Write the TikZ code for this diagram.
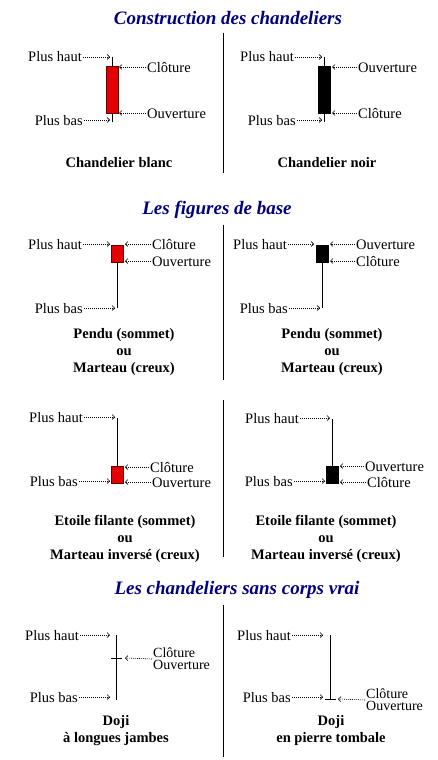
\documentclass[tikz,border=0pt]{standalone}
\usepackage{fontspec}
\setmainfont{Liberation Serif}
\usetikzlibrary{arrows.meta}
\definecolor{titre}{RGB}{0,0,128}
\definecolor{rouge}{RGB}{226,0,0}
\definecolor{bordrouge}{RGB}{100,0,0}
\tikzset{
  lbl/.style={inner sep=1pt,text height=10pt,text depth=0pt,font=\fontsize{14.5}{16}\selectfont},
  lbl2/.style={anchor=west,align=left,inner sep=1pt,font=\fontsize{14}{12}\selectfont},
  legende/.style={align=center,font=\fontsize{14.5}{17}\selectfont\bfseries},
  titrefig/.style={text=titre,font=\fontsize{19}{22}\selectfont\bfseries\itshape},
  ptr/.style={line width=.6pt,dash pattern=on 1pt off 1pt,-{Straight Barb[length=2.5pt,width=5pt,line width=.6pt]}},
  meche/.style={line width=1pt},
  blanc/.style={fill=rouge,draw=bordrouge,line width=.8pt},
  noir/.style={fill=black,draw=black,line width=.8pt},
  sep/.style={line width=1pt}
}
\begin{document}
\begin{tikzpicture}[x=1pt,y=-1pt]
  \useasboundingbox (0,0) rectangle (437,760);
  % titres
  \node[titrefig] (t1) at (228,18) {Construction des chandeliers};
  \node[titrefig] (t2) at (217,210) {Les figures de base};
  \node[titrefig] (t3) at (237,590) {Les chandeliers sans corps vrai};
  % separations
  \draw[sep] (223,33)--(223,173);
  \draw[sep] (223,225)--(223,380);
  \draw[sep] (223,400)--(223,557);
  \draw[sep] (223,605)--(223,757);

  % chandelier blanc
  \draw[meche] (112,57)--(112,122);
  \filldraw[blanc] (106,66) rectangle (118,113);
  \coordinate (a1) at (110,57);
  \coordinate (a2) at (110,120);
  \coordinate (a3) at (119,67);
  \coordinate (a4) at (119,113);
  \node[lbl,anchor=east] (ph1) at (83,57) {Plus haut};
  \node[lbl,anchor=east] (pb1) at (84,120) {Plus bas};
  \node[lbl,anchor=west] (cl1) at (146,67) {Clôture};
  \node[lbl,anchor=west] (ou1) at (146,113) {Ouverture};
  \draw[ptr] (ph1.east)--(a1);
  \draw[ptr] (pb1.east)--(a2);
  \draw[ptr] (cl1.west)--(a3);
  \draw[ptr] (ou1.west)--(a4);
  \node[legende] (c1) at (119,163) {Chandelier blanc};

  % chandelier noir
  \draw[meche] (324,57)--(324,122);
  \filldraw[noir] (318,66) rectangle (330,113);
  \coordinate (b1) at (322,57);
  \coordinate (b2) at (322,120);
  \coordinate (b3) at (332,67);
  \coordinate (b4) at (332,113);
  \node[lbl,anchor=east] (ph2) at (295,57) {Plus haut};
  \node[lbl,anchor=east] (pb2) at (297,120) {Plus bas};
  \node[lbl,anchor=west] (ou2) at (357,67) {Ouverture};
  \node[lbl,anchor=west] (cl2) at (357,113) {Clôture};
  \draw[ptr] (ph2.east)--(b1);
  \draw[ptr] (pb2.east)--(b2);
  \draw[ptr] (ou2.west)--(b3);
  \draw[ptr] (cl2.west)--(b4);
  \node[legende] (c2) at (327,163) {Chandelier noir};

  % pendu / marteau, blanc
  \draw[meche] (117,262)--(117,308);
  \filldraw[blanc] (111,245) rectangle (123,262);
  \coordinate (c1a) at (110,244);
  \coordinate (c1b) at (115,308);
  \coordinate (c1c) at (125,244);
  \coordinate (c1d) at (125,261);
  \node[lbl,anchor=east] (ph3) at (83,244) {Plus haut};
  \node[lbl,anchor=east] (pb3) at (84,308) {Plus bas};
  \node[lbl,anchor=west] (cl3) at (151,244) {Clôture};
  \node[lbl,anchor=west] (ou3) at (151,261) {Ouverture};
  \draw[ptr] (ph3.east)--(c1a);
  \draw[ptr] (pb3.east)--(c1b);
  \draw[ptr] (cl3.west)--(c1c);
  \draw[ptr] (ou3.west)--(c1d);
  \node[legende] (c3) at (124,352) {Pendu (sommet)\\ou\\Marteau (creux)};

  % pendu / marteau, noir
  \draw[meche] (322,262)--(322,308);
  \filldraw[noir] (316,245) rectangle (328,262);
  \coordinate (d1) at (314,244);
  \coordinate (d2) at (320,308);
  \coordinate (d3) at (330,244);
  \coordinate (d4) at (330,261);
  \node[lbl,anchor=east] (ph4) at (288,244) {Plus haut};
  \node[lbl,anchor=east] (pb4) at (289,308) {Plus bas};
  \node[lbl,anchor=west] (ou4) at (355,244) {Ouverture};
  \node[lbl,anchor=west] (cl4) at (355,261) {Clôture};
  \draw[ptr] (ph4.east)--(d1);
  \draw[ptr] (pb4.east)--(d2);
  \draw[ptr] (ou4.west)--(d3);
  \draw[ptr] (cl4.west)--(d4);
  \node[legende] (c4) at (332,352) {Pendu (sommet)\\ou\\Marteau (creux)};

  % etoile filante, blanc
  \draw[meche] (117,418)--(117,466);
  \filldraw[blanc] (111,466) rectangle (123,483);
  \coordinate (e1) at (115,417);
  \coordinate (e2) at (110,481);
  \coordinate (e3) at (125,467);
  \coordinate (e4) at (125,482);
  \node[lbl,anchor=east] (ph5) at (84,417) {Plus haut};
  \node[lbl,anchor=east] (pb5) at (79,481) {Plus bas};
  \node[lbl,anchor=west] (cl5) at (149,467) {Clôture};
  \node[lbl,anchor=west] (ou5) at (151,482) {Ouverture};
  \draw[ptr] (ph5.east)--(e1);
  \draw[ptr] (pb5.east)--(e2);
  \draw[ptr] (cl5.west)--(e3);
  \draw[ptr] (ou5.west)--(e4);
  \node[legende] (c5) at (125,539) {Etoile filante (sommet)\\ou\\Marteau inversé (creux)};

  % etoile filante, noir
  \draw[meche] (332,419)--(332,466);
  \filldraw[noir] (326,466) rectangle (338,483);
  \coordinate (f1) at (330,418);
  \coordinate (f2) at (325,481);
  \coordinate (f3) at (340,466);
  \coordinate (f4) at (340,482);
  \node[lbl,anchor=east] (ph6) at (300,418) {Plus haut};
  \node[lbl,anchor=east] (pb6) at (294,481) {Plus bas};
  \node[lbl,anchor=west] (ou6) at (364,466) {Ouverture};
  \node[lbl,anchor=west] (cl6) at (366,482) {Clôture};
  \draw[ptr] (ph6.east)--(f1);
  \draw[ptr] (pb6.east)--(f2);
  \draw[ptr] (ou6.west)--(f3);
  \draw[ptr] (cl6.west)--(f4);
  \node[legende] (c6) at (326,539) {Etoile filante (sommet)\\ou\\Marteau inversé (creux)};

  % doji a longues jambes
  \draw[meche] (116,635)--(116,700);
  \draw[meche] (111,658)--(122,658);
  \coordinate (g1) at (110,635);
  \coordinate (g2) at (110,697);
  \coordinate (g3) at (125,658);
  \node[lbl,anchor=east] (ph7) at (80,635) {Plus haut};
  \node[lbl,anchor=east] (pb7) at (79,697) {Plus bas};
  \node[lbl2] (co7) at (152,659) {Clôture\\Ouverture};
  \draw[ptr] (co7.west)--(g3);
  \draw[ptr] (ph7.east)--(g1);
  \draw[ptr] (pb7.east)--(g2);
  \node[legende] (c7) at (116,731) {Doji\\à longues jambes};

  % doji pierre tombale
  \draw[meche] (330,635)--(330,699);
  \draw[meche] (325,699)--(336,699);
  \coordinate (h1) at (323,635);
  \coordinate (h2) at (323,697);
  \coordinate (h3) at (338,699);
  \node[lbl,anchor=east] (ph8) at (292,635) {Plus haut};
  \node[lbl,anchor=east] (pb8) at (292,697) {Plus bas};
  \node[lbl2] (co8) at (365,700) {Clôture\\Ouverture};
  \draw[ptr] (co8.west)--(h3);
  \draw[ptr] (ph8.east)--(h1);
  \draw[ptr] (pb8.east)--(h2);
  \node[legende] (c8) at (331,731) {Doji\\en pierre tombale};
\end{tikzpicture}
\end{document}
